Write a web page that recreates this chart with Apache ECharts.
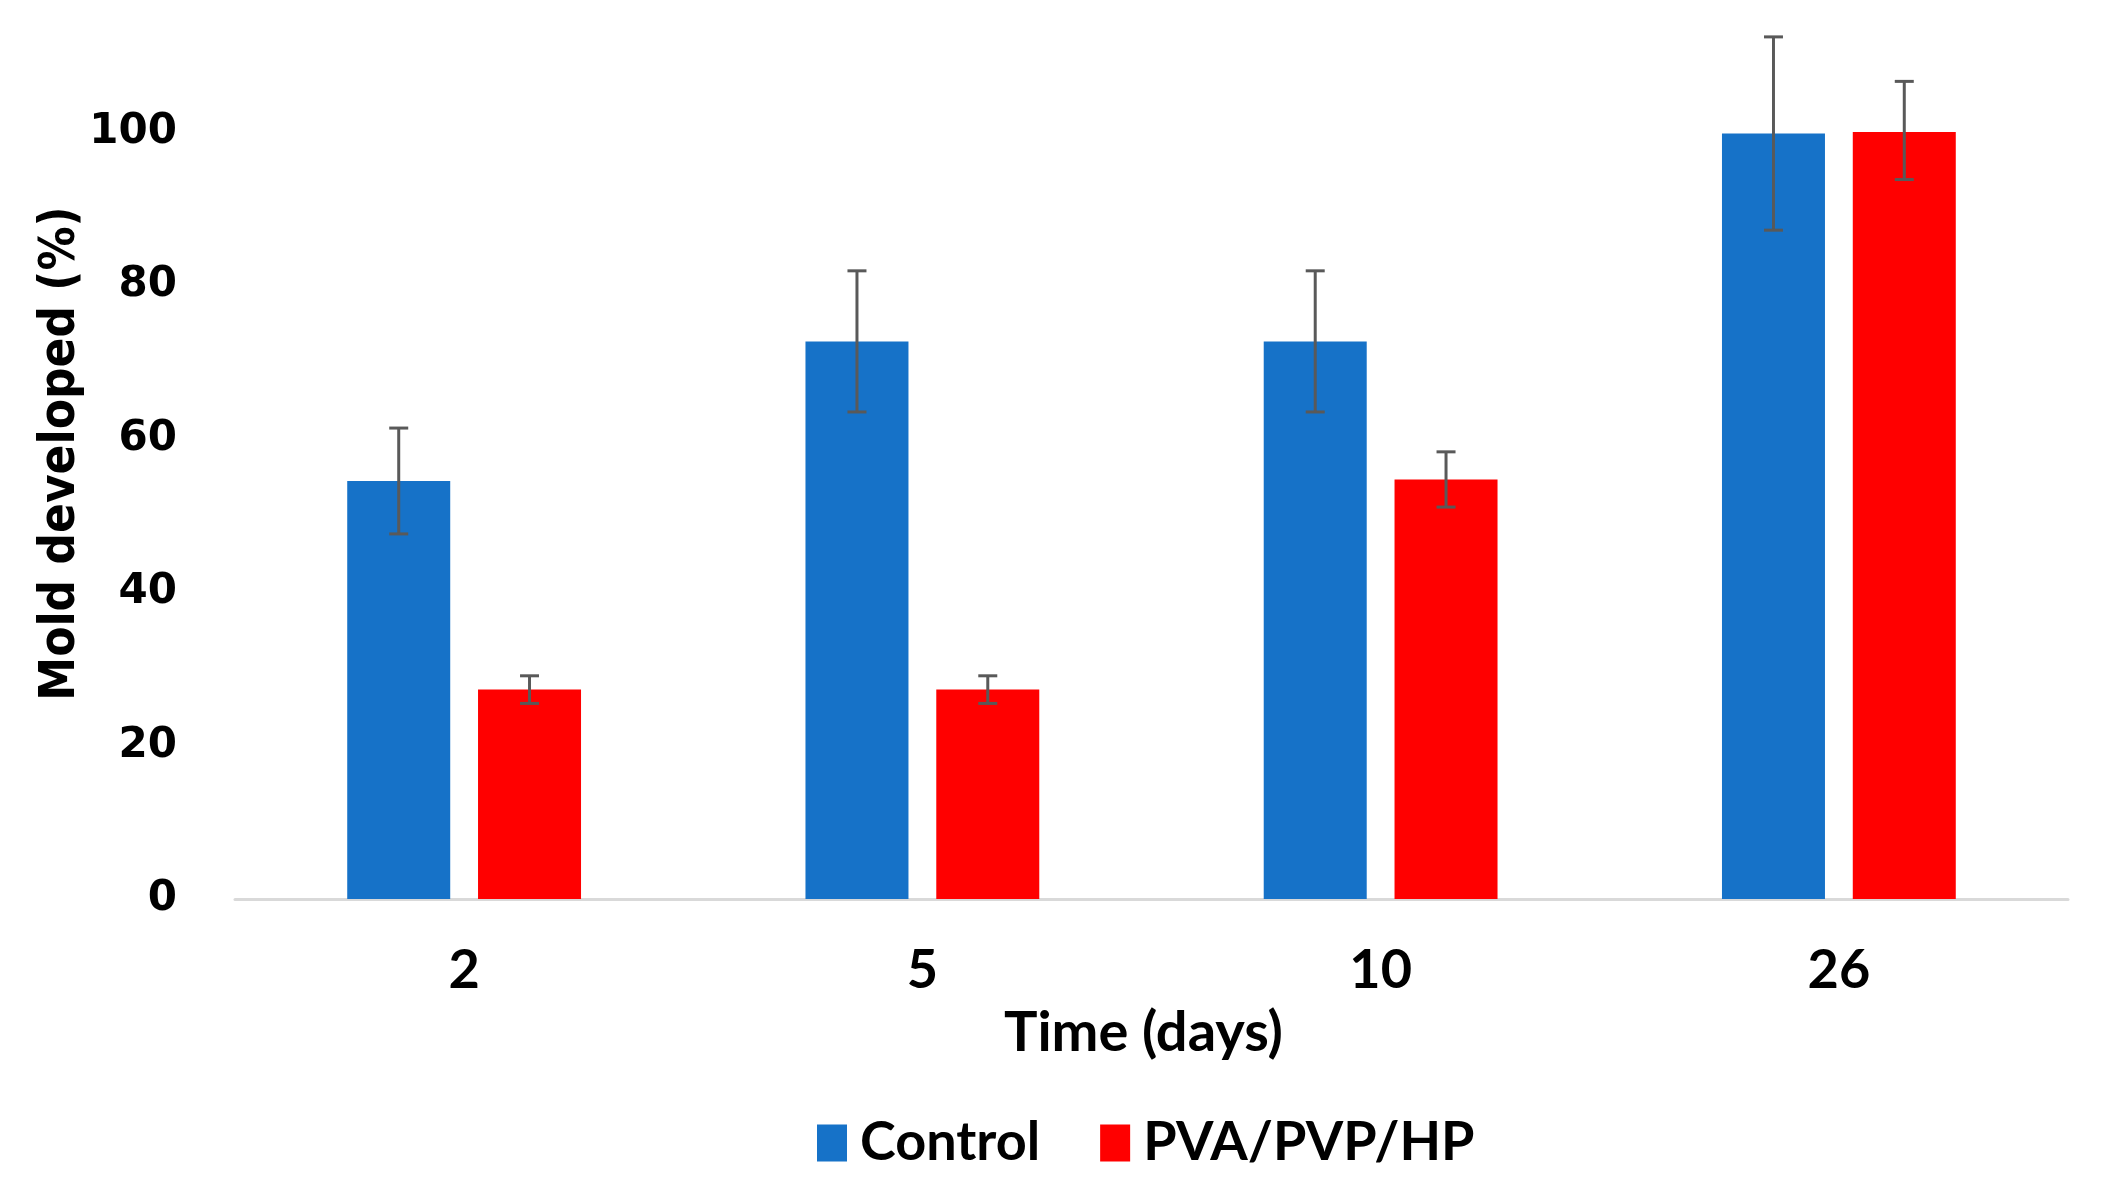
<!DOCTYPE html>
<html>
<head>
<meta charset="utf-8">
<script src="https://cdn.jsdelivr.net/npm/echarts@6/dist/echarts.min.js"></script>
<style>
html,body{margin:0;padding:0;background:#fff;}
#chart{width:2108px;height:1183px;}
</style>
</head>
<body>
<div id="chart"></div>
<script>
const categories = ['2', '5', '10', '26'];
const seriesNames = ['Control', 'PVA/PVP/HP'];
const controlValues = [54.5, 72.7, 72.7, 99.8];
const controlErrors = [6.9, 9.2, 9.2, 12.6];
const pvaValues = [27.3, 27.3, 54.7, 100.2];
const pvaErrors = [1.8, 1.8, 3.6, 6.4];
const yTicks = [0, 20, 40, 60, 80, 100];

const BAR_W = 103;
const GAP_PCT = 27;
const colors = ['#1672C8', '#FF0000'];
const errColor = '#595959';

function errSeries(values, errors, sign) {
  const data = values.map((v, i) => [i, v, errors[i]]);
  return {
    type: 'custom',
    silent: true,
    clip: false,
    z: 5,
    data: data,
    encode: { x: 0, y: 1 },
    renderItem: function (params, api) {
      const i = api.value(0), v = api.value(1), e = api.value(2);
      const c = api.coord([i, v]);
      const off = sign * (BAR_W + BAR_W * GAP_PCT / 100) / 2;
      const x = c[0] + off;
      const top = api.coord([i, v + e])[1];
      const bot = api.coord([i, v - e])[1];
      const cap = 9.5;
      const st = { stroke: errColor, lineWidth: 3 };
      return {
        type: 'group',
        children: [
          { type: 'line', shape: { x1: x, y1: top, x2: x, y2: bot }, style: st },
          { type: 'line', shape: { x1: x - cap, y1: top, x2: x + cap, y2: top }, style: st },
          { type: 'line', shape: { x1: x - cap, y1: bot, x2: x + cap, y2: bot }, style: st }
        ]
      };
    }
  };
}

const chart = echarts.init(document.getElementById('chart'));
chart.setOption({
  animation: false,
  backgroundColor: '#ffffff',
  grid: { left: 235, right: 40, top: 132, bottom: 284, containLabel: false },
  legend: {
    data: seriesNames.map((n, k) => ({ name: n, icon: 'rect', itemStyle: { color: colors[k] } })),
    left: 812,
    top: 1111,
    itemWidth: 30,
    itemHeight: 37,
    itemGap: 60,
    textStyle: { fontFamily: 'Lato', fontWeight: 'bold', fontSize: 54, color: '#000', padding: [0, 0, 0, 8] }
  },
  xAxis: {
    type: 'category',
    data: categories,
    name: 'Time (days)',
    nameLocation: 'middle',
    nameGap: 106,
    nameTextStyle: { fontFamily: 'Lato', fontWeight: 'bold', fontSize: 56, color: '#000', padding: [0, 16, 0, 0] },
    axisLine: { show: true, lineStyle: { color: '#D9D9D9', width: 3 } },
    axisTick: { show: false },
    axisLabel: { margin: 45, fontFamily: 'Lato', fontWeight: 'bold', fontSize: 54, color: '#000' },
    splitLine: { show: false }
  },
  yAxis: {
    type: 'value',
    min: 0,
    max: 100,
    interval: 20,
    name: 'Mold developed (%)',
    nameLocation: 'middle',
    nameGap: 149,
    nameMoveOverlap: false,
    nameTextStyle: { fontFamily: 'DejaVu Sans Condensed', fontWeight: 'bold', fontSize: 49, color: '#000', padding: [0, 0, 0, 124] },
    axisLine: { show: false },
    axisTick: { show: false },
    splitLine: { show: false },
    axisLabel: {
      margin: 58,
      fontFamily: 'DejaVu Sans', fontWeight: 'bold', fontSize: 42, color: '#000',
      formatter: function (v) { return yTicks.indexOf(v) >= 0 ? String(v) : ''; }
    }
  },
  series: [
    { name: seriesNames[0], type: 'bar', data: controlValues, barWidth: BAR_W, barGap: GAP_PCT + '%', itemStyle: { color: colors[0] } },
    { name: seriesNames[1], type: 'bar', data: pvaValues, barWidth: BAR_W, barGap: GAP_PCT + '%', itemStyle: { color: colors[1] } },
    errSeries(controlValues, controlErrors, -1),
    errSeries(pvaValues, pvaErrors, 1)
  ]
});
</script>
</body>
</html>
